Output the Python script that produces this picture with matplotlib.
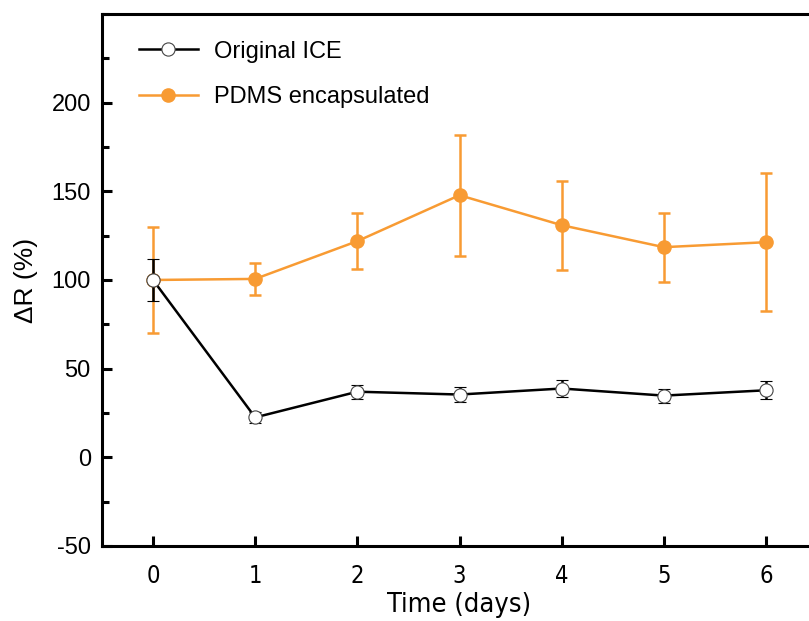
import matplotlib
matplotlib.use('Agg')
import matplotlib.pyplot as plt
from matplotlib.ticker import MultipleLocator

days = [0, 1, 2, 3, 4, 5, 6]
ice = [100, 22.5, 37, 35.4, 38.8, 34.8, 37.8]
ice_err = [12, 3, 4, 4, 5, 4, 5]
pdms = [100, 100.6, 121.9, 147.8, 130.9, 118.5, 121.3]
pdms_err = [30, 9, 15.7, 34, 25, 19.5, 39]

plt.rcParams['font.family'] = ['Liberation Sans', 'DejaVu Sans']
plt.rcParams['axes.unicode_minus'] = False

orange = '#F89B33'

fig = plt.figure(figsize=(8.09, 6.21), dpi=100)
ax = fig.add_axes([0.126, 0.1208, 0.884, 0.8567])

ax.errorbar(days, ice, yerr=ice_err, color='black', lw=1.8, marker='o', ms=9.5,
            mfc='white', mec='#444444', mew=0.8, capsize=4.5, capthick=2.2,
            elinewidth=1.8, label='Original ICE', zorder=3)
ax.errorbar(days, pdms, yerr=pdms_err, color=orange, lw=1.8, marker='o', ms=9.5,
            mfc=orange, mec=orange, capsize=4.5, capthick=1.8, elinewidth=1.8,
            label='PDMS encapsulated', zorder=2)

ax.set_xlim(-0.5, 6.5)
ax.set_ylim(-50, 250)
ax.set_xticks(days)
ax.yaxis.set_minor_locator(MultipleLocator(25))
ax.set_yticks([-50, 0, 50, 100, 150, 200])

for s in ax.spines.values():
    s.set_linewidth(2.2)
ax.tick_params(axis='both', which='major', direction='in', length=7, width=2.2)
ax.tick_params(axis='y', which='minor', direction='in', length=5, width=2.2)
ax.tick_params(axis='y', labelsize=17, pad=8)
ax.tick_params(axis='x', labelsize=17, pad=13)
for lab in ax.get_xticklabels():
    lab.set_fontfamily('DejaVu Sans')
    lab.set_fontstretch('condensed')

ax.set_xlabel('Time (days)', fontsize=19.5, fontfamily='DejaVu Sans',
              fontstretch='condensed', labelpad=3)
ax.set_ylabel('ΔR (%)', fontsize=19, labelpad=10)

handles, labels = ax.get_legend_handles_labels()
handles = [h[0] for h in handles]
ax.legend(handles, labels, loc='upper left', frameon=False, fontsize=17,
          bbox_to_anchor=(0.022, 0.99), handlelength=2.5, handletextpad=0.7,
          labelspacing=1.0)

fig.savefig('out.png', dpi=100)
